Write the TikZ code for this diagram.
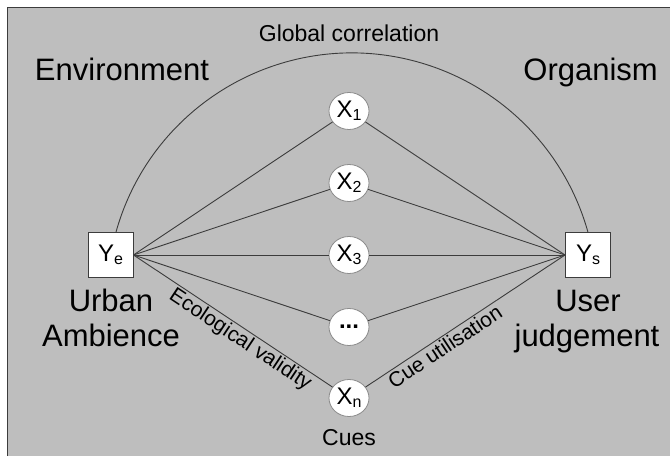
\documentclass[tikz,border=0pt]{standalone}
\usepackage{fontspec}
\setmainfont{Liberation Sans}
\usetikzlibrary{shapes.geometric}
\definecolor{bggray}{RGB}{190,190,190}
\definecolor{linegray}{RGB}{60,60,60}
\definecolor{circgray}{RGB}{140,140,140}
\newcommand{\fs}[1]{\fontsize{#1}{#1}\selectfont}
\newcommand{\varsub}[2]{{\fs{24}#1}\raisebox{-3pt}{\fs{16}#2}}
\begin{document}
\begin{tikzpicture}[x=1pt,y=1pt,
  conn/.style={draw=linegray, line width=0.9pt},
  cue/.style={ellipse, draw=circgray, fill=white, line width=0.8pt, minimum width=40pt, minimum height=37pt, inner sep=0pt},
  varbox/.style={rectangle, draw=linegray, fill=white, line width=0.9pt, minimum width=45pt, minimum height=45pt, inner sep=0pt},
  big/.style={font=\fs{31}, inner sep=0pt},
  mid/.style={font=\fs{23}, inner sep=0pt},
  slab/.style={font=\fs{21}, inner sep=2pt}]
\useasboundingbox (0,0) rectangle (670,456);
\fill[white] (0,0) rectangle (670,456);
\fill[bggray] (7.5,0) rectangle (670,448);
\draw[linegray, line width=1pt] (7.5,0) -- (7.5,448) -- (670,448);
% nodes
\node[varbox] (Ye) at (110.5,201) {\varsub{Y}{e}};
\node[varbox] (Ys) at (588,201) {\varsub{Y}{s}};
\node[cue] (X1) at (349,345) {\varsub{X}{1}};
\node[cue] (X2) at (349,273) {\varsub{X}{2}};
\node[cue] (X3) at (349,201) {\varsub{X}{3}};
\node[cue] (Xd) at (349,129) {\fs{24}\bfseries ...};
\node[cue] (Xn) at (349,58) {\varsub{X}{n}};
% arc
\draw[conn] ([xshift=5.5pt]Ye.north) arc[start angle=164.4, end angle=15.6, radius=245];
% connectors
\foreach \n in {X1,X2,X3,Xd,Xn} {
  \draw[conn] (Ye.east) -- (\n);
  \draw[conn] (\n) -- (Ys.west);
}
\path (Ye.east) -- (Xn) node[slab, sloped, below, pos=0.57] (ev) {Ecological validity};
\path (Xn) -- (Ys.west) node[slab, sloped, below, pos=0.37] (cu) {Cue utilisation};
% labels
\node[big, anchor=base] (env) at (122,375) {Environment};
\node[big, anchor=base east] (org) at (658,375) {Organism};
\node[mid, anchor=base] (glob) at (349,414.5) {Global correlation};
\node[big, anchor=base] (urb) at (111,145) {Urban};
\node[big, anchor=base] (amb) at (111,110) {Ambience};
\node[big, anchor=base] (usr) at (588,145) {User};
\node[big, anchor=base] (jud) at (587,110) {judgement};
\node[mid, anchor=base] (cues) at (349,11) {Cues};
\end{tikzpicture}
\end{document}
